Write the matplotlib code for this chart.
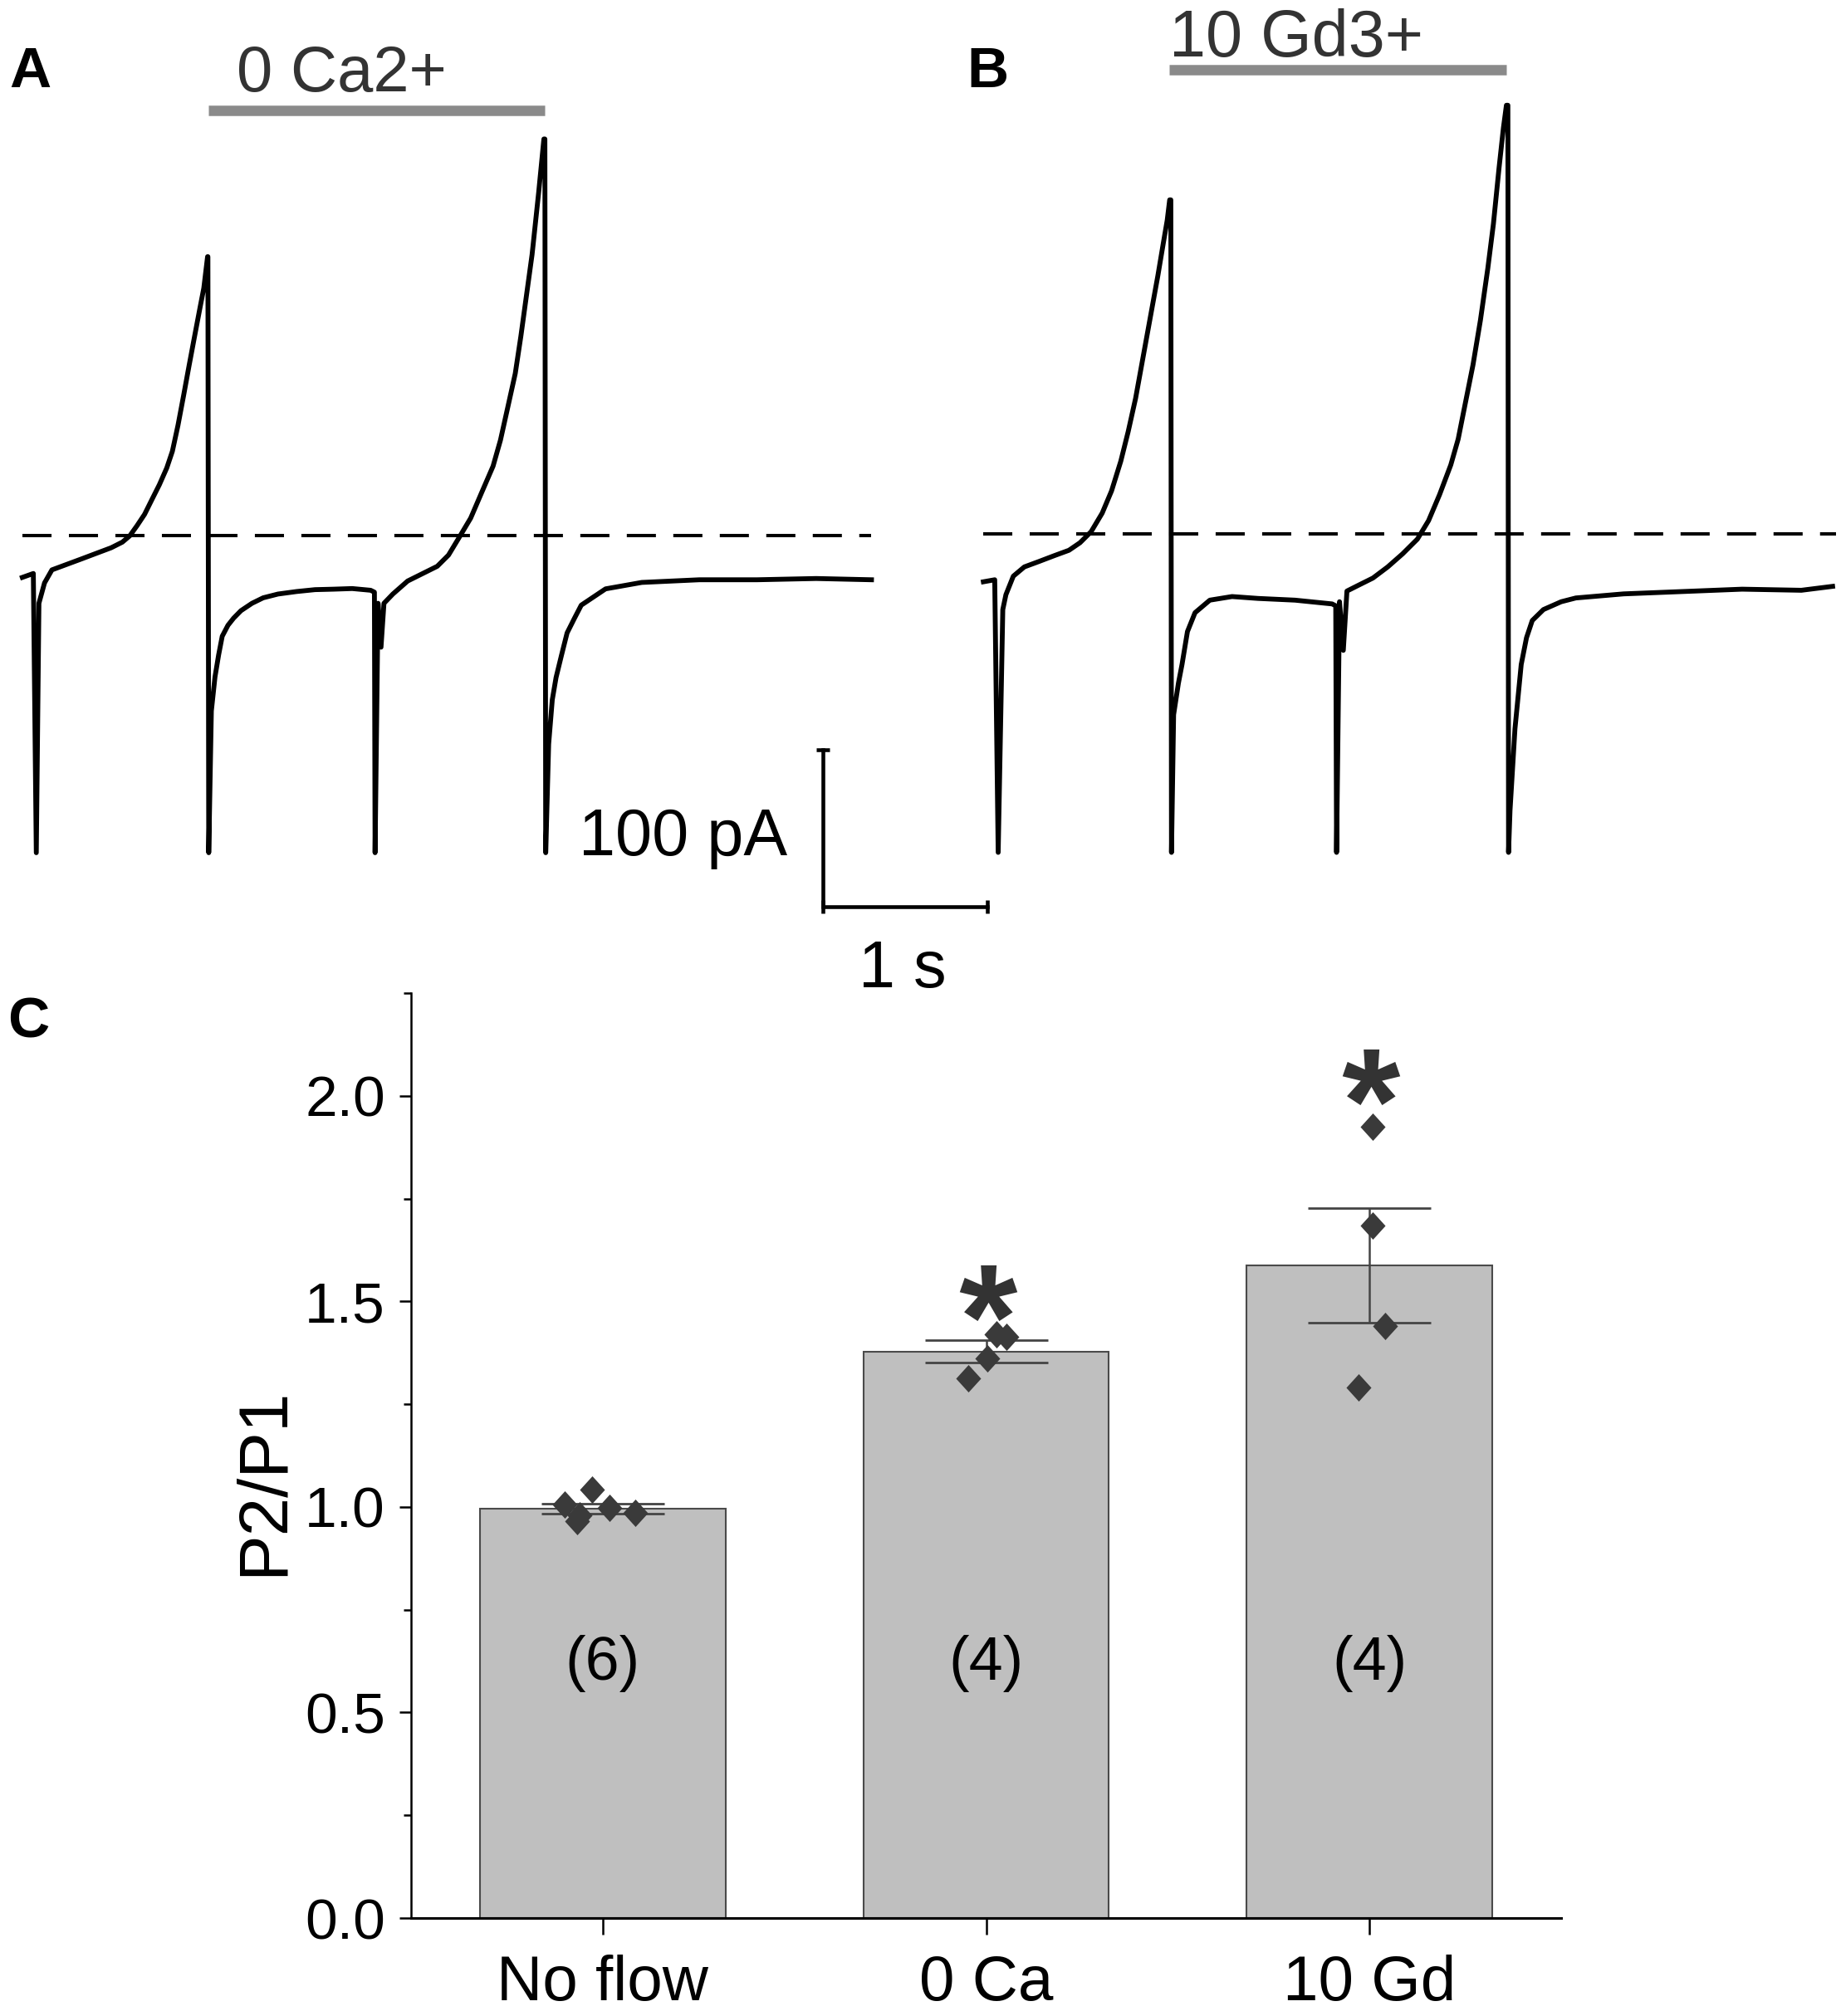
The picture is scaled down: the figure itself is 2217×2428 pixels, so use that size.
import numpy as np
import matplotlib
matplotlib.use('Agg')
import matplotlib.pyplot as plt
from matplotlib.textpath import TextPath
from matplotlib.font_manager import FontProperties
from matplotlib.path import Path
from matplotlib.ticker import MultipleLocator, FormatStrFormatter

plt.rcParams['font.family'] = ['Liberation Sans', 'DejaVu Sans']

# ---------------- Data ----------------
# Panel A trace: time (s), current (pA, relative to dashed baseline)
trace_a_t = [-0.005, 0.062, 0.080, 0.096, 0.13, 0.175, 0.265, 0.355, 0.446, 0.535, 0.603, 0.648,
             0.693, 0.738, 0.783, 0.828, 0.873, 0.907, 0.941, 0.975, 1.008, 1.042, 1.076, 1.098,
             1.121, 1.123, 1.128, 1.144, 1.166, 1.188, 1.21, 1.245, 1.279, 1.324, 1.391, 1.459,
             1.549, 1.662, 1.774, 1.887, 2.0, 2.112, 2.135, 2.139, 2.157, 2.175, 2.193, 2.247,
             2.337, 2.427, 2.517, 2.585, 2.653, 2.72, 2.788, 2.856, 2.901, 2.946, 2.991, 3.025,
             3.059, 3.093, 3.10, 3.133, 3.165, 3.171, 3.176, 3.194, 3.216, 3.239, 3.272, 3.306,
             3.351, 3.392, 3.54, 3.76, 4.11, 4.46, 4.82, 5.156]
trace_a_i = [-26.5, -24, -202, -43, -30, -21.7, -18.2, -14.7, -11.1, -7.6, -4, 0,
             6.6, 13.7, 23.2, 32.6, 43.3, 53.9, 70.4, 89.3, 108.2, 127.2, 146, 157.9,
             178, 178, -202, -111.6, -90, -76, -64, -57, -52.5, -47.7, -43, -39.5,
             -37.1, -35.5, -34.3, -34, -33.6, -34.7, -35.9, -202, -43, -71, -43, -37.1,
             -28.8, -24.1, -19.4, -12.3, -0.5, 11.3, 27.9, 44.4, 61, 82.2, 103.5, 127.2,
             153.2, 179.2, 186, 218.7, 253, 253, -202, -132.8, -104.5, -90.3, -76.1, -61.9,
             -52.5, -44.2, -33.8, -29.7, -28, -28, -27.2, -28]

# Panel B trace
trace_b_t = [0.0, 0.069, 0.090, 0.118, 0.137, 0.182, 0.249, 0.339, 0.429, 0.52, 0.587, 0.655,
             0.722, 0.779, 0.835, 0.88, 0.925, 0.97, 1.015, 1.06, 1.094, 1.117, 1.132, 1.139,
             1.143, 1.156, 1.185, 1.207, 1.24, 1.286, 1.376, 1.511, 1.669, 1.894, 2.119, 2.141,
             2.146, 2.164, 2.187, 2.209, 2.277, 2.367, 2.457, 2.547, 2.637, 2.705, 2.772, 2.84,
             2.885, 2.93, 2.975, 3.02, 3.065, 3.099, 3.133, 3.16, 3.178, 3.187, 3.191, 3.20,
             3.23, 3.268, 3.30, 3.335, 3.403, 3.511, 3.60, 3.89, 4.25, 4.61, 4.97, 5.16]
trace_b_i = [-30.3, -29, -202.8, -48, -38.5, -26.7, -20.8, -17.3, -13.7, -10.2, -5.4, 1.7,
             13.5, 27.7, 46.6, 65.5, 86.7, 112.7, 138.7, 164.7, 186, 200.2, 213.2, 213.2,
             -202.8, -115, -95, -83, -62, -50, -42, -39.7, -40.9, -42, -44.4, -45.6,
             -202.8, -43, -74, -36.2, -32.6, -27.9, -20.8, -12.5, -3.1, 8.7, 25.3, 44.2,
             60.7, 84.4, 108, 136.4, 169.5, 197.8, 233.3, 259.3, 273.5, 273.5, -202.8, -176,
             -124, -83, -66, -55, -48, -43, -40.6, -38, -36.5, -35, -35.7, -33.2]

baseline_a = [-0.005, 5.156]        # dashed zero-current line (s)
baseline_b = [0.0, 5.18]
app_a = [1.125, 3.17]               # 0 Ca2+ application (s)
app_b = [1.13, 3.18]                # 10 Gd3+ application (s)
app_labels = ['0 Ca2+', '10 Gd3+']
scalebar_time = 1.0                 # s
scalebar_current = 100.0            # pA

# Panel C
conditions = ['No flow', '0 Ca', '10 Gd']
means = [0.996, 1.378, 1.588]
sems = [0.012, 0.027, 0.139]
n_labels = ['(6)', '(4)', '(4)']
pts_noflow = [1.005, 0.965, 1.042, 0.998, 0.985, 0.980]
jit_noflow = [-0.100, -0.067, -0.027, 0.017, 0.084, -0.060]
pts_0ca = [1.420, 1.414, 1.362, 1.313]
jit_0ca = [0.028, 0.052, 0.004, -0.046]
pts_10gd = [1.924, 1.685, 1.440, 1.291]
jit_10gd = [0.009, 0.009, 0.040, -0.028]
sig_y = [None, 1.521, 2.046]

# ---------------- Figure ----------------
W, H = 2217, 2428
fig = plt.figure(figsize=(W / 100, H / 100), dpi=100)

TRACE_LW = 4.2
DASH_LW = 2.9

axA = fig.add_axes([0.0, 0.5, 0.5, 0.5])
axB = fig.add_axes([0.5, 0.5, 0.5, 0.5])
axA.set_xlim(-0.1406, 5.4539)
axA.set_ylim(-301.0, 341.6)
axB.set_xlim(-0.382, 5.211)
axB.set_ylim(-302.0, 340.6)

panels = [
    (axA, trace_a_t, trace_a_i, baseline_a, app_a, 271.1, app_labels[0], 1.9375, 283.4, 56),
    (axB, trace_b_t, trace_b_i, baseline_b, app_b, 296.3, app_labels[1], 1.902, 304.5, 57),
]
for ax, tt, ii, base, app, bar_i, lab, lab_t, lab_i, fs in panels:
    ax.axis('off')
    ax.plot(base, [0, 0], color='black', lw=DASH_LW,
            linestyle=(0, (8.7, 5.2)), zorder=1)
    ax.plot(tt, ii, color='black', lw=TRACE_LW, solid_joinstyle='round', zorder=2)
    ax.plot(app, [bar_i, bar_i], color='#8a8a8a', lw=9, solid_capstyle='butt',
            clip_on=False)
    ax.text(lab_t, lab_i, lab, ha='center', va='baseline', fontsize=fs,
            color='#333333')

# scale bar (in panel A data units)
sb_t0, sb_i0 = 4.859, -136.6
sb_i1 = sb_i0 - scalebar_current
sb_t1 = sb_t0 + scalebar_time
axA.plot([sb_t0, sb_t0, sb_t1], [sb_i0, sb_i1, sb_i1], color='black', lw=3.3,
         solid_joinstyle='miter', clip_on=False)
axA.plot([sb_t0], [sb_i0], marker='_', ms=11.5, mew=3.3, color='black', clip_on=False)
axA.plot([sb_t0, sb_t1], [sb_i1, sb_i1], marker='|', ms=11.5, mew=3.3, ls='none',
         color='black', clip_on=False)
axA.text(4.642, -203.8, '100 pA', ha='right', va='baseline', fontsize=57, color='black')
axA.text(5.344, -287.6, '1 s', ha='center', va='baseline', fontsize=57, color='black',
         clip_on=False)

# ---------------- Panel C ----------------
axC = fig.add_axes([495 / W, 1 - 2310 / H, (1880 - 495) / W, (2310 - 1196) / H])
x = np.arange(len(conditions))
axC.bar(x, means, width=0.64, color='#bfbfbf', edgecolor='#4a4a4a', linewidth=1.5,
        zorder=1)
axC.errorbar(x, means, yerr=sems, fmt='none', ecolor='#444444', elinewidth=1.8,
             capsize=53, capthick=2.0, zorder=2)

diamond = [(0, 1), (0.91, 0), (0, -1), (-0.91, 0), (0, 1)]
for xi, pts, jit in zip(x, [pts_noflow, pts_0ca, pts_10gd],
                        [jit_noflow, jit_0ca, jit_10gd]):
    axC.plot(xi + np.array(jit), pts, ls='none', marker=diamond, ms=23.8,
             color='#3a3a3a', mec='none', zorder=3)

# asterisk marker built from the bold glyph, centred on its own extent
fp = FontProperties(family='Liberation Sans', weight='bold')
tp = TextPath((0, 0), '*', prop=fp, size=1)
verts = np.array(tp.vertices, dtype=float).copy()
codes = np.array(tp.codes).copy()
start = verts[0].copy()
for k, c in enumerate(codes):
    if c == Path.MOVETO:
        start = verts[k].copy()
    elif c == Path.CLOSEPOLY:
        verts[k] = start
cx = (verts[:, 0].min() + verts[:, 0].max()) / 2
cy = (verts[:, 1].min() + verts[:, 1].max()) / 2
verts -= [cx, cy]
star = Path(verts, codes)
for xi, sy in zip(x, sig_y):
    if sy is not None:
        axC.plot([xi + 0.005], [sy], ls='none', marker=star, ms=50, color='#333333',
                 mec='none', zorder=4)

for xi, nl in zip(x, n_labels):
    axC.text(xi, 0.62, nl, ha='center', va='center', fontsize=53, color='black')

axC.set_xlim(-0.5, 2.5)
axC.set_ylim(0, 2.25)
axC.set_xticks(x)
axC.set_xticklabels(conditions, fontsize=55)
axC.yaxis.set_major_locator(MultipleLocator(0.5))
axC.yaxis.set_minor_locator(MultipleLocator(0.25))
axC.yaxis.set_major_formatter(FormatStrFormatter('%.1f'))
axC.tick_params(axis='y', which='major', labelsize=50, length=10.4, width=1.8, pad=12)
axC.tick_params(axis='y', which='minor', length=6.2, width=1.8)
axC.tick_params(axis='x', which='major', length=14.4, width=1.8, pad=17)
for s in ['top', 'right']:
    axC.spines[s].set_visible(False)
axC.spines['left'].set_linewidth(1.8)
axC.spines['bottom'].set_linewidth(2.2)
axC.set_ylabel('P2/P1', fontsize=60)
axC.yaxis.set_label_coords(-0.10, 0.472)

# panel letters
fig.text(7 / 1432, 1 - 68 / 1568, 'A', fontsize=50, fontweight='bold', ha='left',
         va='baseline')
fig.text(752 / 1432, 1 - 68 / 1568, 'B', fontsize=50, fontweight='bold', ha='left',
         va='baseline')
fig.text(6 / 1432, 1 - 807 / 1568, 'C', fontsize=50, fontweight='bold', ha='left',
         va='baseline')

fig.savefig('out.png', dpi=100)
